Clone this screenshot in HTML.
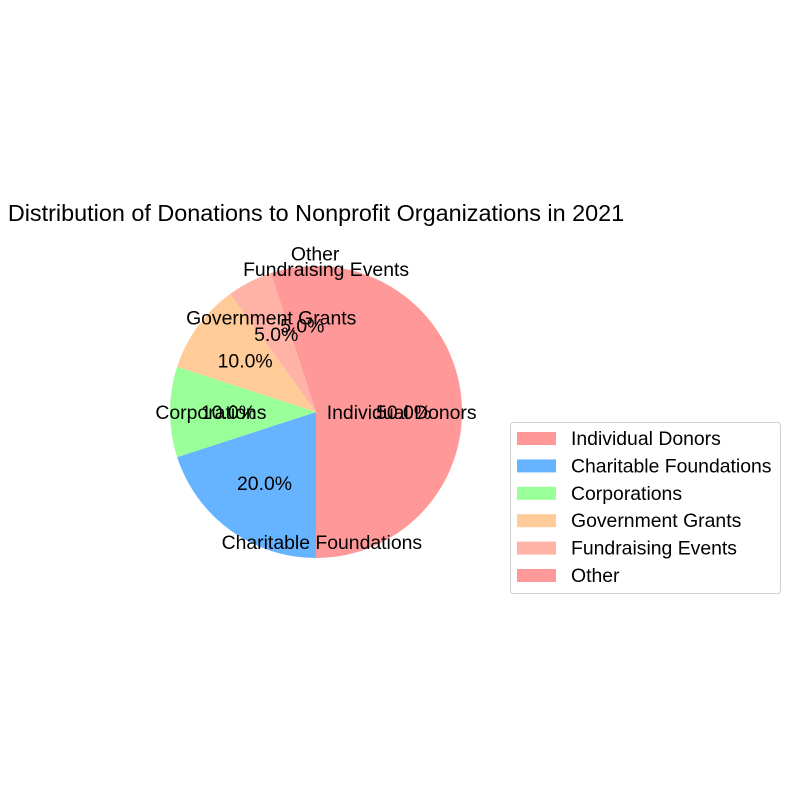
<!DOCTYPE html>
<html><head><meta charset="utf-8">
<style>
html,body{margin:0;padding:0;background:#fff;}
svg{display:block;font-family:"Liberation Sans",Arial,sans-serif;}
</style></head>
<body>
<svg id="chart" width="800" height="800" viewBox="0 0 800 800">
<text x="316" y="221" font-size="23.4" text-anchor="middle">Distribution of Donations to Nonprofit Organizations in 2021</text>
<g id="slices"></g>
<g id="labels"></g>
<g id="legend">
<rect x="510.5" y="422.5" width="270" height="171" rx="3" fill="#fff" stroke="#d0d0d0"/>
</g>
</svg>
<script>
const categories = ["Individual Donors","Charitable Foundations","Corporations","Government Grants","Fundraising Events","Other"];
const values = [50,20,10,10,5,5];
const colors = ["#ff9999","#66b3ff","#99ff99","#ffcc99","#ffb3a7","#ff9999"];
const NS="http://www.w3.org/2000/svg";
const cx=316, cy=412, r=146, FS=19.4;
const total=values.reduce((a,b)=>a+b,0);
const sl=document.getElementById('slices'), lb=document.getElementById('labels'), lg=document.getElementById('legend');
function pt(deg,rad){const a=deg*Math.PI/180;return [cx+rad*Math.cos(a), cy-rad*Math.sin(a)];}
let start=90;
values.forEach((v,i)=>{
  const sweep=v/total*360, end=start-sweep;
  const [x1,y1]=pt(start,r), [x2,y2]=pt(end,r);
  const p=document.createElementNS(NS,'path');
  p.setAttribute('d',`M${cx},${cy} L${x1},${y1} A${r},${r} 0 ${sweep>180?1:0} 1 ${x2},${y2} Z`);
  p.setAttribute('fill',colors[i]);
  
  
  sl.appendChild(p);
  const mid=start-sweep/2;
  const [lx,ly]=pt(mid,r*1.1);
  const t=document.createElementNS(NS,'text');
  t.setAttribute('x',lx);t.setAttribute('y',ly+7);t.setAttribute('font-size',FS);
  t.setAttribute('text-anchor', Math.cos(mid*Math.PI/180)>0.5?'end':'start');
  t.textContent=categories[i];
  
  
  lb.appendChild(t);
  const [px,py]=pt(mid,r*0.6);
  const q=document.createElementNS(NS,'text');
  q.setAttribute('x',px);q.setAttribute('y',py+7);q.setAttribute('font-size',FS);q.setAttribute('text-anchor','middle');
  q.textContent=(v/total*100).toFixed(1)+'%';
  
  
  lb.appendChild(q);
  const ey=438+i*27.4;
  const sw=document.createElementNS(NS,'rect');
  sw.setAttribute('x',517);sw.setAttribute('y',ey-6);sw.setAttribute('width',39);sw.setAttribute('height',13);sw.setAttribute('fill',colors[i]);
  
  
  lg.appendChild(sw);
  const lt=document.createElementNS(NS,'text');
  lt.setAttribute('x',571);lt.setAttribute('y',ey+7);lt.setAttribute('font-size',FS);
  lt.textContent=categories[i];
  
  
  lg.appendChild(lt);
  start=end;
});
</script>
</body></html>
